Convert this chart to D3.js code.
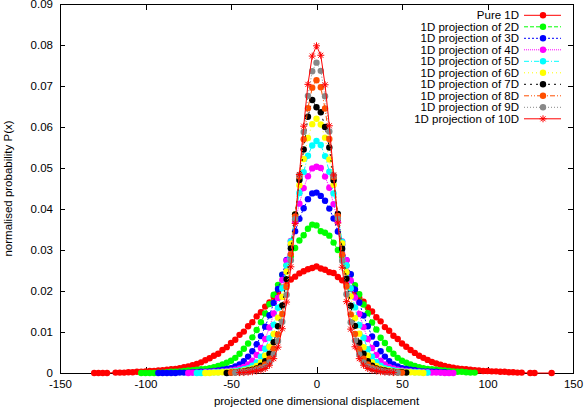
<!DOCTYPE html>
<html>
<head>
<meta charset="utf-8">
<script src="https://cdn.jsdelivr.net/npm/d3@7"></script>
<style>
  body { margin: 0; background: #fff; }
  .chart text { font-family: "Liberation Sans", Arial, sans-serif; font-size: 11.5px; fill: #000; }
  .axis path, .axis line, .border { shape-rendering: crispEdges; }
</style>
</head>
<body>
<svg class="chart" width="586" height="409"></svg>
<script>
// histogram bins are 2.5 units wide; values are in units of 1e-4
var labels = [
  "Pure 1D", "1D projection of 2D", "1D projection of 3D", "1D projection of 4D",
  "1D projection of 5D", "1D projection of 6D", "1D projection of 7D",
  "1D projection of 8D", "1D projection of 9D", "1D projection of 10D"
];
var binWidth = 2.5;
var firstBin = [-130, -102.5, -92.5, -75, -70, -65, -52.5, -50, -47.5, -45];

var pure1D = [
  0, 0, 0, 0, null, 1, 1, 1, 2, 2,
  3, 3, 4, 5, 5, 6, 7, 8, 9, 10,
  12, 14, 16, 19, 22, 26, 31, 36, 42, 47,
  56, 63, 73, 81, 93, 101, 114, 124, 138, 148,
  162, 172, 186, 195, 208, 215, 228, 235, 243, 248,
  253, 256,
  260, 255, 252, 246, 244, 234, 226, 218, 205, 197,
  183, 174, 160, 150, 136, 126, 112, 103, 91, 83,
  72, 64, 56, 49, 42, 37, 32, 27, 23, 20,
  17, 15, 13, 11, 10, 9, 8, 7, 6, 5,
  5, 4, 4, 3, 3, 2, 2, 1, 1, null,
  0, 0, null, null, null, 0
];
var proj2D = [
  0, 0, 0, 0, 1, 1, 2, 3, 3, 4,
  5, 6, 7, 8, 9, 10, 12, 14, 17, 21,
  25, 30, 37, 47, 59, 72, 87, 105, 124, 145,
  168, 191, 215, 239, 263, 285, 305, 323, 336, 352,
  362,
  360, 346, 342, 335, 318, 300, 284, 262, 240, 214,
  192, 167, 146, 123, 106, 86, 73, 58, 47, 37,
  30, 25, 21, 17, 14, 12, 10, 9, 8, 7,
  6, 5, 4, 3, 3, 2, 1, 1
];
var proj3D = [
  0, 0, 0, 0, 0, 1, 1, 1, 2, 2,
  3, 3, 4, 5, 6, 8, 10, 12, 16, 21,
  29, 40, 53, 70, 90, 113, 141, 171, 205, 240,
  276, 312, 346, 376, 402, 424, 438,
  440, 432, 420, 401, 377, 345, 313, 275, 241, 204,
  172, 140, 114, 89, 71, 53, 40, 29, 21, 16,
  12, 10, 8, 7, 5, 4, 4, 3, 3, 2,
  2, 1
];
var proj4D = [
  0, 1, 1, 1, 2, 2, 3, 3, 4, 5,
  6, 8, 11, 15, 21, 30, 44, 61, 83, 111,
  145, 183, 227, 274, 322, 369, 413, 451, 480, 499,
  503, 500, 479, 452, 412, 370, 321, 275, 226, 184,
  144, 112, 83, 61, 44, 30, 21, 15, 11, 8,
  6, 5, 4, 3, 3, 2, 2, 1, 1, 1,
  0, 0, 0
];
var proj5D = [
  0, 0, 1, 1, 2, 2, 3, 3, 4, 5,
  7, 9, 12, 18, 26, 40, 59, 85, 118, 159,
  207, 262, 321, 382, 439, 490, 530, 555,
  566, 556, 529, 491, 438, 383, 320, 263, 206, 160,
  117, 86, 58, 40, 27, 18, 12, 9, 7, 5,
  4, 3, 3, 2, 2, 1, 1
];
var proj6D = [
  0, 0, 1, 1, 2, 2, 3, 3, 4, 6,
  8, 11, 17, 26, 42, 64, 95, 135, 186, 247,
  315, 387, 458, 522, 573, 607,
  620, 606, 574, 521, 459, 386, 316, 246, 187, 134,
  96, 63, 42, 26, 17, 11, 8, 6, 4, 3,
  3, 2, 2, 1, 1, 0
];
var proj7D = [
  0, 1, 2, 3, 4, 6, 8, 11, 18, 29,
  47, 75, 114, 165, 229, 304, 387, 471, 545, 625,
  666,
  648, 636, 600, 550, 470, 388, 303, 230, 164, 115,
  74, 47, 29, 18, 11, 8, 6, 4, 3, 2,
  2, 1
];
var proj8D = [
  1, 2, 2, 3, 4, 6, 9, 13, 21, 35,
  59, 94, 144, 210, 290, 382, 479, 570, 646, 696,
  714, 697, 645, 571, 478, 383, 289, 211, 143, 95,
  58, 35, 21, 13, 9, 6, 4, 3, 2, 2,
  1
];
var proj9D = [
  1, 2, 2, 3, 5, 7, 10, 15, 26, 45,
  78, 125, 191, 275, 375, 483, 588, 676, 736,
  757, 737, 675, 589, 482, 376, 274, 192, 124, 79,
  45, 26, 15, 10, 7, 5, 3, 2, 2, 1
];
var proj10D = [
  1, 1, 2, 3, 5, 7, 11, 19, 35, 63,
  108, 173, 259, 365, 484, 602, 704, 773,
  798, 775, 703, 603, 483, 366, 258, 174, 107, 64,
  35, 19, 11, 7, 5, 3, 2, 2, 1
];

var xTicks = [-150, -100, -50, 0, 50, 100, 150];
var yTicks = [0, 0.01, 0.02, 0.03, 0.04, 0.05, 0.06, 0.07, 0.08, 0.09];

(function() {
  var margin = {top: 4, right: 13, bottom: 36, left: 60};

  var svg = d3.select(".chart"),
      width = +svg.attr("width") - margin.left - margin.right,
      height = +svg.attr("height") - margin.top - margin.bottom;

  var colors = ["#ff0000", "#00ff00", "#0000ff", "#ff00ff", "#00ffff",
                "#ffff00", "#000000", "#ff4f00", "#888888", "#ff0000"];
  var dashes = [null, "4,2", "2,2", "1,1", "5,2,1,2", "1,3", "2,4", "5,2,1,2,1,2", "1,2", null];

  var columns = [pure1D, proj2D, proj3D, proj4D, proj5D, proj6D, proj7D, proj8D, proj9D, proj10D];

  var series = columns.map(function(values, s) {
    var points = values.map(function(v, i) {
      return {x: firstBin[s] + binWidth * i, y: v === null ? null : v / 1e4};
    }).filter(function(d) { return d.y !== null; });
    return {name: labels[s], color: colors[s], dash: dashes[s], star: s === 9, points: points};
  });

  var x = d3.scaleLinear().domain([-150, 150]).range([0, width]);
  var y = d3.scaleLinear().domain([0, 0.09]).range([height, 0]);

  var chart = svg.append("g")
    .attr("transform", "translate(" + margin.left + "," + margin.top + ")");

  // ticks point inwards on all four sides, like gnuplot
  chart.append("g")
    .attr("class", "axis")
    .attr("transform", "translate(0," + height + ")")
    .call(d3.axisBottom(x).tickValues(xTicks).tickSize(-6).tickSizeOuter(0).tickPadding(7)
      .tickFormat(function(d) { return String(d); }));

  chart.append("g")
    .attr("class", "axis")
    .call(d3.axisTop(x).tickValues(xTicks).tickSize(-6).tickSizeOuter(0).tickFormat(""));

  chart.append("g")
    .attr("class", "axis")
    .call(d3.axisLeft(y).tickValues(yTicks).tickSize(-5).tickSizeOuter(0).tickPadding(7)
      .tickFormat(function(d) { return d === 0 ? "0" : d.toFixed(2); }));

  chart.append("g")
    .attr("class", "axis")
    .attr("transform", "translate(" + width + ",0)")
    .call(d3.axisRight(y).tickValues(yTicks).tickSize(-5).tickSizeOuter(0).tickFormat(""));

  chart.selectAll(".axis .domain").remove();
  chart.selectAll(".axis line").attr("stroke", "#000");
  chart.selectAll(".axis text").attr("font-family", null).attr("font-size", null).attr("fill", "#000");

  chart.append("rect")
    .attr("class", "border")
    .attr("x", 0).attr("y", 0)
    .attr("width", width).attr("height", height)
    .attr("fill", "none")
    .attr("stroke", "#000");

  var line = d3.line()
    .x(function(d) { return x(d.x); })
    .y(function(d) { return y(d.y); });

  var starPath = "M-3.5,0H3.5M0,-3.5V3.5M-2.5,-2.5L2.5,2.5M-2.5,2.5L2.5,-2.5";

  function drawMarker(sel, d) {
    if (d.star) {
      sel.append("path")
        .attr("d", starPath)
        .attr("fill", "none")
        .attr("stroke", d.color)
        .attr("stroke-width", 1);
    } else {
      sel.append("circle")
        .attr("r", 3.2)
        .attr("fill", d.color);
    }
  }

  var plot = chart.selectAll(".series")
    .data(series)
    .enter().append("g")
    .attr("class", "series");

  plot.append("path")
    .attr("d", function(d) { return line(d.points); })
    .attr("fill", "none")
    .attr("stroke", function(d) { return d.color; })
    .attr("stroke-width", 1)
    .attr("stroke-dasharray", function(d) { return d.dash; });

  plot.each(function(s) {
    d3.select(this).selectAll(".pt")
      .data(s.points)
      .enter().append("g")
      .attr("class", "pt")
      .attr("transform", function(d) { return "translate(" + x(d.x) + "," + y(d.y) + ")"; })
      .each(function() { drawMarker(d3.select(this), s); });
  });

  // legend, top right inside the plot
  var legend = svg.append("g")
    .selectAll("g")
    .data(series)
    .enter().append("g")
    .attr("transform", function(d, i) { return "translate(0," + (15.3 + i * 11.5) + ")"; });

  legend.append("text")
    .attr("x", 519)
    .attr("dy", "0.35em")
    .style("text-anchor", "end")
    .text(function(d) { return d.name; });

  legend.append("line")
    .attr("x1", 524).attr("x2", 561)
    .attr("stroke", function(d) { return d.color; })
    .attr("stroke-dasharray", function(d) { return d.dash; });

  legend.each(function(d) {
    var g = d3.select(this).append("g").attr("transform", "translate(543,0)");
    drawMarker(g, d);
  });

  svg.append("text")
    .attr("transform", "translate(8," + (margin.top + height / 2) + ") rotate(-90)")
    .attr("dy", "0.35em")
    .style("text-anchor", "middle")
    .text("normalised probability P(x)");

  svg.append("text")
    .attr("x", margin.left + width / 2)
    .attr("y", 405)
    .style("text-anchor", "middle")
    .text("projected one dimensional displacement");
})();
</script>
</body>
</html>
